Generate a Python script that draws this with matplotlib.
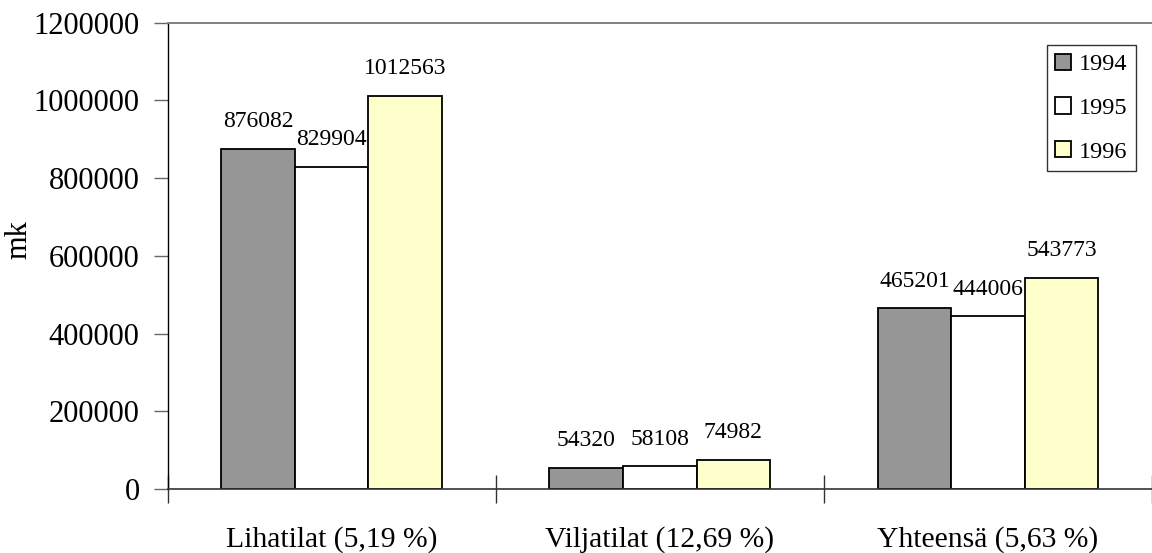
import matplotlib
matplotlib.use("Agg")
import matplotlib.pyplot as plt
import numpy as np
from matplotlib.patches import Patch

plt.rcParams['font.family'] = ['Liberation Serif', 'DejaVu Serif']

categories = ["Lihatilat (5,19 %)", "Viljatilat (12,69 %)", "Yhteensä (5,63 %)"]
years = ["1994", "1995", "1996"]
values_1994 = [876082, 54320, 465201]
values_1995 = [829904, 58108, 444006]
values_1996 = [1012563, 74982, 543773]
colors = ["#969696", "#ffffff", "#ffffcc"]

W, H = 1152, 553
x0, y0, y1 = 167.5, 489.0, 22.7
fig = plt.figure(figsize=(W / 100, H / 100), dpi=100)
ax = fig.add_axes([x0 / W, 1 - y0 / H, 1 - x0 / W, (y0 - y1) / H])

cat_w = 330.3
ax.set_xlim(0, (W - x0) / cat_w)
ax.set_ylim(0, 1200000)

centers = np.arange(len(categories)) + 0.5
bw = 0.224
series = [values_1994, values_1995, values_1996]
for i, (vals, col) in enumerate(zip(series, colors)):
    xs = centers + (i - 1) * bw
    ax.bar(xs, vals, width=bw, color=col, edgecolor="black", linewidth=1.3, zorder=2)
    for x, v in zip(xs, vals):
        ax.annotate(str(v), (x, v), xytext=(0, 15.5), textcoords="offset points",
                    ha="center", va="baseline", fontsize=17)

ax.spines["right"].set_visible(False)
ax.spines["top"].set_color("#808080")
ax.spines["top"].set_linewidth(1.4)
ax.spines["left"].set_linewidth(1.0)
ax.spines["bottom"].set_linewidth(1.2)
ax.spines["bottom"].set_color("#333333")

ax.set_yticks(np.arange(0, 1200001, 200000))
ax.set_yticklabels([str(v) for v in range(0, 1200001, 200000)], fontsize=22)
ax.tick_params(axis="y", direction="out", length=10, width=1.0, color="#666666", pad=10)

ax.set_xticks([0, 1, 2, 3])
ax.set_xticklabels([])
ax.tick_params(axis="x", which="major", direction="inout", length=20, width=1.0, color="#333333")
ax.set_xticks(centers, minor=True)
ax.set_xticklabels(categories, minor=True, fontsize=21.3)
ax.tick_params(axis="x", which="minor", length=0, pad=27)

ax.set_ylabel("mk", fontsize=22)
ax.yaxis.set_label_coords((33 - x0) / (W - x0), (y0 - 240) / (y0 - y1))

handles = [Patch(facecolor=c, edgecolor="black", linewidth=1.3) for c in colors]
leg = ax.legend(handles, years, loc="upper right",
                bbox_to_anchor=((1136 - x0) / (W - x0), (y0 - 45) / (y0 - y1)),
                fontsize=17.5, frameon=True, fancybox=False, edgecolor="black",
                handlelength=0.66, handleheight=0.66, handletextpad=0.3,
                labelspacing=0.9, borderpad=0.36, borderaxespad=0)
leg.get_frame().set_linewidth(1.0)

fig.savefig("out.png", dpi=100)
